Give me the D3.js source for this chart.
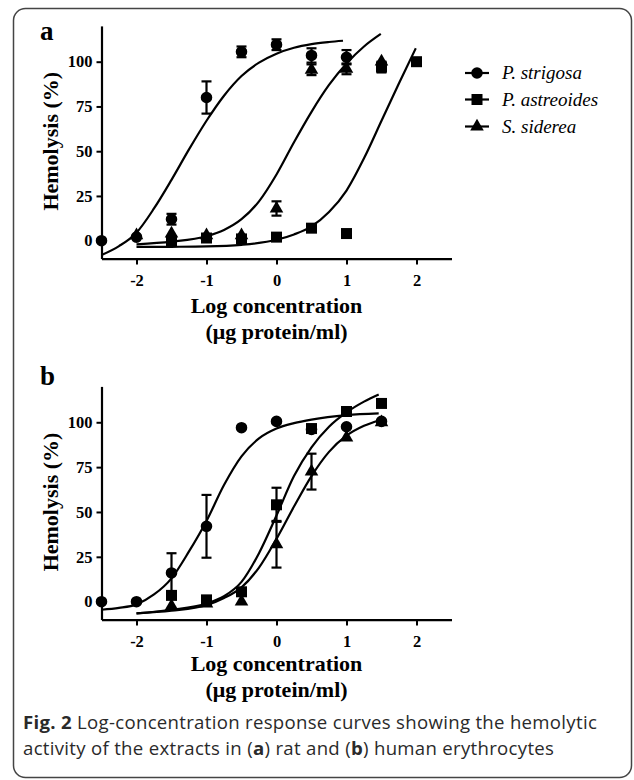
<!DOCTYPE html>
<html>
<head>
<meta charset="utf-8">
<script src="https://cdn.jsdelivr.net/npm/d3@7/dist/d3.min.js"></script>
<style>
  html, body { margin: 0; padding: 0; background: #fff; }
  svg { display: block; }
</style>
</head>
<body>
<svg id="chart" width="634" height="780"></svg>
<script>
// ---------- DATA ----------
const xTicks = [-2, -1, 0, 1, 2];
const yTicks = [0, 25, 50, 75, 100];
const xDomain = [-2.5, 2.5];
const yDomain = [-10, 120];
const seriesNames = ["P. strigosa", "P. astreoides", "S. siderea"];
const xTitle = "Log concentration";
const xSubTitle = "(\u03bcg protein/ml)";
const yTitle = "Hemolysis (%)";

// Panel a (rat erythrocytes)
const aStrigosaX   = [-2.5, -2, -1.5, -1, -0.5, 0, 0.5, 1];
const aStrigosaY   = [0, 2, 12, 80, 105.5, 109.5, 103.5, 102.5];
const aStrigosaErr = [0, 0, 3, 9, 3, 3, 4, 4];
const aAstreoidesX   = [-1.5, -1, -0.5, 0, 0.5, 1, 1.5, 2];
const aAstreoidesY   = [0, 1.5, 1, 2, 7, 4, 97, 100];
const aAstreoidesErr = [0, 0, 0, 0, 0, 0, 3, 0];
const aSidereaX   = [-2, -1.5, -1, -0.5, 0, 0.5, 1, 1.5];
const aSidereaY   = [3, 4, 3, 3, 18, 95.5, 96, 100];
const aSidereaErr = [0, 0, 0, 0, 4, 3, 3, 0];
// fitted curves [log conc, %]
const aStrigosaFit = [[-2.5,-8],[-2.25,-3],[-2,4.5],[-1.75,18],[-1.5,34],[-1.25,51],[-1,67],[-0.75,81],[-0.5,92],[-0.25,99.5],[0,104.5],[0.25,107.8],[0.5,109.8],[0.75,111],[0.95,111.7]];
const aAstreoidesFit = [[-2,-3.5],[-1.5,-3.4],[-1,-3.2],[-0.5,-2.3],[0,0.5],[0.25,3.5],[0.5,8],[0.75,16],[1,28],[1.25,46],[1.5,67],[1.75,88],[1.99,107.5]];
const aSidereaFit = [[-2,-2],[-1.5,-0.5],[-1,2.5],[-0.75,6],[-0.5,12],[-0.25,22],[0,37],[0.25,55],[0.5,72],[0.75,87],[1,99],[1.25,108.5],[1.49,115.5]];

// Panel b (human erythrocytes)
const bStrigosaX   = [-2.5, -2, -1.5, -1, -0.5, 0, 0.5, 1, 1.5];
const bStrigosaY   = [0, 0, 16, 42, 97, 100.5, 96, 97.5, 100.5];
const bStrigosaErr = [0, 0, 11, 17.5, 0, 0, 0, 0, 0];
const bAstreoidesX   = [-1.5, -1, -0.5, 0, 0.5, 1, 1.5];
const bAstreoidesY   = [3.5, 1, 5.5, 54, 96.5, 106, 110.5];
const bAstreoidesErr = [0, 0, 0, 9.5, 2, 0, 0];
const bSidereaX   = [-1.5, -1, -0.5, 0, 0.5, 1, 1.5];
const bSidereaY   = [-2.5, -1, 0, 32, 72.5, 91.5, 100];
const bSidereaErr = [0, 0, 0, 13, 10, 0, 0];
const bStrigosaFit = [[-2.5,-4.5],[-2.25,-3.5],[-2,-1.5],[-1.75,4],[-1.5,13],[-1.25,28],[-1,45],[-0.75,65],[-0.5,81],[-0.25,91],[0,96.5],[0.25,99.5],[0.5,101.5],[1,104],[1.46,105]];
const bAstreoidesFit = [[-2,-6.5],[-1.5,-4.5],[-1,-1],[-0.75,3],[-0.5,11],[-0.25,27],[0,48],[0.25,70],[0.5,86],[0.75,97.5],[1,105.5],[1.25,111.5],[1.46,115.5]];
const bSidereaFit = [[-2,-6.5],[-1.5,-5],[-1,-2],[-0.75,2],[-0.5,8],[-0.25,19],[0,35],[0.25,53],[0.5,70],[0.75,83.5],[1,92.5],[1.25,98],[1.46,101]];

const captionBold = "Fig. 2";
const captionLine1 = " Log-concentration response curves showing the hemolytic";
const captionLine2 = ["activity of the extracts in (", "a", ") rat and (", "b", ") human erythrocytes"];

// ---------- DRAW ----------
const svg = d3.select("#chart");
const serif = "'Liberation Serif', 'Times New Roman', serif";

// frame
svg.append("rect")
  .attr("x", 13.5).attr("y", 8.5).attr("width", 618).attr("height", 769)
  .attr("rx", 12).attr("ry", 12)
  .attr("fill", "none").attr("stroke", "#444").attr("stroke-width", 1.5);

const symbolTypes = { strigosa: d3.symbolCircle, astreoides: d3.symbolSquare, siderea: d3.symbolTriangle };
const symbolSizes = { strigosa: 105, astreoides: 121, siderea: 80 };

const panels = [
  { letter: "a", yRange: [258.6, 25.9], letterY: 40, titleY: 313, subY: 339,
    series: [
      { key: "siderea", x: aSidereaX, y: aSidereaY, e: aSidereaErr, fit: aSidereaFit },
      { key: "strigosa", x: aStrigosaX, y: aStrigosaY, e: aStrigosaErr, fit: aStrigosaFit },
      { key: "astreoides", x: aAstreoidesX, y: aAstreoidesY, e: aAstreoidesErr, fit: aAstreoidesFit }
    ] },
  { letter: "b", yRange: [619.6, 386.4], letterY: 385, titleY: 671, subY: 697,
    series: [
      { key: "siderea", x: bSidereaX, y: bSidereaY, e: bSidereaErr, fit: bSidereaFit },
      { key: "strigosa", x: bStrigosaX, y: bStrigosaY, e: bStrigosaErr, fit: bStrigosaFit },
      { key: "astreoides", x: bAstreoidesX, y: bAstreoidesY, e: bAstreoidesErr, fit: bAstreoidesFit }
    ] }
];

panels.forEach(p => {
  const x = d3.scaleLinear().domain(xDomain).range([101.5, 451.5]);
  const y = d3.scaleLinear().domain(yDomain).range(p.yRange);
  const g = svg.append("g");

  svg.append("text").attr("x", 40).attr("y", p.letterY)
    .attr("font-family", serif).attr("font-weight", "bold").attr("font-size", 27)
    .text(p.letter);

  const xAxis = g.append("g").attr("transform", `translate(0,${y(yDomain[0])})`)
    .call(d3.axisBottom(x).tickValues(xTicks).tickFormat(d3.format("d")).tickSize(6).tickSizeOuter(0).tickPadding(10));
  const yAxis = g.append("g").attr("transform", `translate(${x(xDomain[0])},0)`)
    .call(d3.axisLeft(y).tickValues(yTicks).tickSize(5).tickSizeOuter(0).tickPadding(4));
  [xAxis, yAxis].forEach(ax => {
    ax.select(".domain").attr("stroke", "#000").attr("stroke-width", 2.2);
    ax.selectAll(".tick line").attr("stroke", "#000").attr("stroke-width", 2);
    ax.selectAll(".tick text").attr("font-family", serif).attr("font-weight", "bold")
      .attr("font-size", 16.5).attr("fill", "#000");
  });
  xAxis.selectAll(".tick text").text(d => d < 0 ? "-" + Math.abs(d) : d);

  svg.append("text")
    .attr("transform", `translate(58,${(p.yRange[0] + p.yRange[1]) / 2 - 1}) rotate(-90)`)
    .attr("text-anchor", "middle").attr("font-family", serif).attr("font-weight", "bold")
    .attr("font-size", 22).text(yTitle);
  svg.append("text").attr("x", 276.5).attr("y", p.titleY).attr("text-anchor", "middle")
    .attr("font-family", serif).attr("font-weight", "bold").attr("font-size", 22).text(xTitle);
  svg.append("text").attr("x", 276.5).attr("y", p.subY).attr("text-anchor", "middle")
    .attr("font-family", serif).attr("font-weight", "bold").attr("font-size", 22).text(xSubTitle);

  const line = d3.line().x(d => x(d[0])).y(d => y(d[1])).curve(d3.curveMonotoneX);
  p.series.forEach(s => {
    g.append("path").attr("d", line(s.fit)).attr("fill", "none")
      .attr("stroke", "#000").attr("stroke-width", 2.2);
  });

  p.series.forEach(s => {
    const pts = s.x.map((xv, i) => ({ x: xv, y: s.y[i], e: s.e[i] }));
    const eb = g.append("g").selectAll("g").data(pts.filter(d => d.e > 0)).join("g");
    eb.append("line").attr("x1", d => x(d.x)).attr("x2", d => x(d.x))
      .attr("y1", d => y(d.y - d.e)).attr("y2", d => y(d.y + d.e))
      .attr("stroke", "#000").attr("stroke-width", 2.2);
    [1, -1].forEach(sg => {
      eb.append("line").attr("x1", d => x(d.x) - 5).attr("x2", d => x(d.x) + 5)
        .attr("y1", d => y(d.y + sg * d.e)).attr("y2", d => y(d.y + sg * d.e))
        .attr("stroke", "#000").attr("stroke-width", 2.2);
    });
    g.append("g").selectAll("path").data(pts).join("path")
      .attr("transform", d => `translate(${x(d.x)},${y(d.y)})`)
      .attr("d", d3.symbol(symbolTypes[s.key], symbolSizes[s.key]))
      .attr("fill", "#000");
  });
});

// legend
const legendKeys = ["strigosa", "astreoides", "siderea"];
const legendY = [73, 99.5, 126.5];
legendKeys.forEach((k, i) => {
  const lg = svg.append("g").attr("transform", `translate(477,${legendY[i]})`);
  lg.append("line").attr("x1", -12).attr("x2", 12).attr("stroke", "#000").attr("stroke-width", 2.2);
  lg.append("path").attr("d", d3.symbol(symbolTypes[k], symbolSizes[k])).attr("fill", "#000");
  svg.append("text").attr("x", 502).attr("y", legendY[i] + 6)
    .attr("font-family", serif).attr("font-style", "italic").attr("font-size", 19)
    .text(seriesNames[i]);
});

// caption
const capFont = "'Open Sans', sans-serif";
const cap1 = svg.append("text").attr("x", 23).attr("y", 729)
  .attr("font-family", capFont).attr("font-size", 18.6).attr("letter-spacing", 0.3)
  .attr("fill", "#2a2a2a");
cap1.append("tspan").attr("font-weight", "bold").text(captionBold);
cap1.append("tspan").text(captionLine1);
const cap2 = svg.append("text").attr("x", 23).attr("y", 755)
  .attr("font-family", capFont).attr("font-size", 18.6).attr("letter-spacing", 0.3)
  .attr("fill", "#2a2a2a");
captionLine2.forEach((t, i) => {
  cap2.append("tspan").attr("font-weight", i % 2 === 1 ? "bold" : "normal").text(t);
});
</script>
</body>
</html>
